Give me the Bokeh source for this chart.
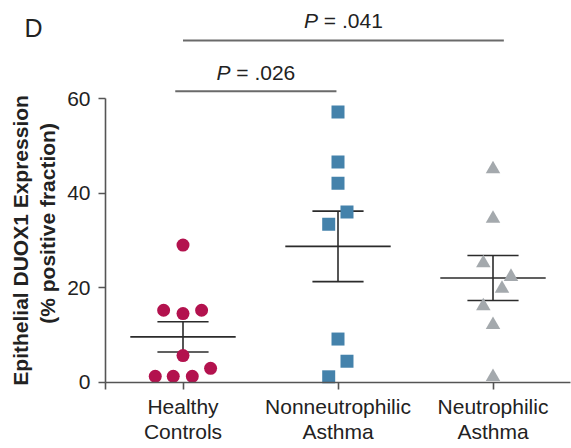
import numpy as np
from bokeh.plotting import figure
from bokeh.models import ColumnDataSource, FixedTicker, Range1d, Label
from bokeh.core.properties import value
from bokeh.embed import file_html
from bokeh.resources import INLINE

# ---------------- data ----------------
group_labels = ["Healthy\nControls", "Nonneutrophilic\nAsthma", "Neutrophilic\nAsthma"]
healthy = [29.0, 15.2, 14.5, 15.2, 5.6, 2.9, 1.2, 1.2, 1.2]
nonneutrophilic = [57.2, 46.6, 42.1, 36.0, 33.4, 9.1, 4.4, 1.1]
neutrophilic = [45.1, 34.6, 25.2, 22.3, 19.8, 16.1, 12.1, 1.1]
y_ticks = [0, 20, 40, 60]
p_texts = ["= .041", "= .026"]
y_title = ["Epithelial DUOX1 Expression", "(% positive fraction)"]

# ------------- layout / style (not data) -------------
healthy_dx = [0, -0.125, 0, 0.12, 0, 0.178, -0.179, -0.063, 0.06]
nonneutrophilic_dx = [0, 0, 0, 0.058, -0.06, 0, 0.058, -0.06]
neutrophilic_dx = [0, 0, -0.0625, 0.116, 0.058, -0.0625, 0, 0]
bracket_x0 = [1.0, 0.95]
bracket_x1 = [3.07, 1.99]
bracket_y = [72.35, 61.6]
p_text_y = [76.55, 65.47]

FONT = "Liberation Sans"
FS = 21
W_PX, H_PX = 571, 448
X_PX_PER_UNIT = 155.0
Y_PX_PER_UNIT = 4.72
AXIS_LEFT_PX = 105.0
AXIS_BOTTOM_PX = 381.5

x_start = 0.5 - AXIS_LEFT_PX / X_PX_PER_UNIT
x_end = x_start + W_PX / X_PX_PER_UNIT
y_end = AXIS_BOTTOM_PX / Y_PX_PER_UNIT
y_start = y_end - H_PX / Y_PX_PER_UNIT

colors = ["#B3124E", "#4482AB", "#A4A9AD"]
markers = ["circle", "square", "triangle"]
sizes = [13, 13, 14.5]

p = figure(width=W_PX, height=H_PX, x_range=Range1d(x_start, x_end), y_range=Range1d(y_start, y_end),
           output_backend="svg", toolbar_location=None,
           min_border_left=0, min_border_right=0, min_border_top=0, min_border_bottom=0)
p.grid.visible = False
p.outline_line_color = None
p.background_fill_color = "white"
p.border_fill_color = "white"

axis_color = "#555555"
# x axis
xa = p.xaxis[0]
xa.fixed_location = 0
xa.bounds = (0.5, 3.5)
xa.ticker = FixedTicker(ticks=[0.5, 1, 2, 3])
xa.major_label_overrides = {0.5: "", 1: group_labels[0], 2: group_labels[1], 3: group_labels[2]}
xa.major_label_text_font = FONT
xa.major_label_text_font_size = f"{FS}px"
xa.major_label_text_color = "#222222"
xa.major_label_text_line_height = 1.1
xa.major_label_standoff = 6
xa.major_tick_out = 7
xa.major_tick_in = 0
xa.minor_tick_line_color = None
xa.axis_line_color = axis_color
xa.major_tick_line_color = axis_color
xa.axis_line_width = 1.6
xa.major_tick_line_width = 1.6

# y axis
ya = p.yaxis[0]
ya.fixed_location = 0.5
ya.bounds = (0, 60)
ya.ticker = FixedTicker(ticks=y_ticks)
ya.major_label_text_font = FONT
ya.major_label_text_font_size = f"{FS}px"
ya.major_label_text_color = "#222222"
ya.major_label_standoff = 8
ya.major_tick_out = 7
ya.major_tick_in = 0
ya.minor_tick_line_color = None
ya.axis_line_color = axis_color
ya.major_tick_line_color = axis_color
ya.axis_line_width = 1.6
ya.major_tick_line_width = 1.6

# mean +/- SEM
series = [healthy, nonneutrophilic, neutrophilic]
offsets = [healthy_dx, nonneutrophilic_dx, neutrophilic_dx]
pos = [1, 2, 3]
means = [float(np.mean(s)) for s in series]
sems = [float(np.std(s, ddof=1) / np.sqrt(len(s))) for s in series]

MEAN_HW = 0.34
CAP_HW = 0.165
err = ColumnDataSource(dict(
    x=pos, mean=means,
    lo=[m - e for m, e in zip(means, sems)],
    hi=[m + e for m, e in zip(means, sems)],
    mx0=[x - MEAN_HW for x in pos], mx1=[x + MEAN_HW for x in pos],
    cx0=[x - CAP_HW for x in pos], cx1=[x + CAP_HW for x in pos],
))
bar_color = "#2b2b2b"
p.segment(x0="mx0", x1="mx1", y0="mean", y1="mean", source=err, line_color=bar_color, line_width=1.6)
p.segment(x0="cx0", x1="cx1", y0="hi", y1="hi", source=err, line_color=bar_color, line_width=1.6)
p.segment(x0="cx0", x1="cx1", y0="lo", y1="lo", source=err, line_color=bar_color, line_width=1.6)
p.segment(x0="x", x1="x", y0="lo", y1="hi", source=err, line_color=bar_color, line_width=1.6)

# points
for i, (vals, dx) in enumerate(zip(series, offsets)):
    src = ColumnDataSource(dict(x=[pos[i] + d for d in dx], y=vals))
    p.scatter(x="x", y="y", source=src, marker=markers[i], size=sizes[i],
              fill_color=colors[i], line_color=None)

# significance brackets
br = ColumnDataSource(dict(x0=bracket_x0, x1=bracket_x1, y=bracket_y,
                           xc=[(a + b) / 2 for a, b in zip(bracket_x0, bracket_x1)],
                           ty=p_text_y, t=p_texts, P=["P"] * len(p_texts)))
p.segment(x0="x0", x1="x1", y0="y", y1="y", source=br, line_color="#6a6a6a", line_width=2)

# widths (Arial/Helvetica metrics) to center "P = .xxx" as one string
W = {"P": 0.667, " ": 0.278, "=": 0.584, ".": 0.278}
def tw(s):
    return sum(W.get(c, 0.556) for c in s) * FS
full_w = tw("P " + p_texts[0])
split = -full_w / 2 + tw("P")
p.text(x="xc", y="ty", text="P", source=br, text_font=value(FONT), text_font_style="italic",
       text_font_size=f"{FS}px", text_color="#222222", text_align="right",
       text_baseline="middle", x_offset=split)
p.text(x="xc", y="ty", text="t", source=br, text_font=value(FONT),
       text_font_size=f"{FS}px", text_color="#222222", text_align="left",
       text_baseline="middle", x_offset=split + tw(" "))

# y axis title (two lines), placed to the left of the 0-60 axis
for txt, tx, ty in zip(y_title, [-0.0452, 0.1258], [30.0, 33.6]):
    p.add_layout(Label(x=tx, y=ty, text=txt, angle=np.pi / 2,
                       text_align="center", text_baseline="middle",
                       text_font=FONT, text_font_size=f"{FS}px", text_font_style="bold",
                       text_color="#222222"))

p.add_layout(Label(x=-0.0226, y=75.0, text="D", text_align="left", text_baseline="middle",
                   text_font=FONT, text_font_size="25px", text_color="#222222"))

open("out.html", "w").write(file_html(p, INLINE))
